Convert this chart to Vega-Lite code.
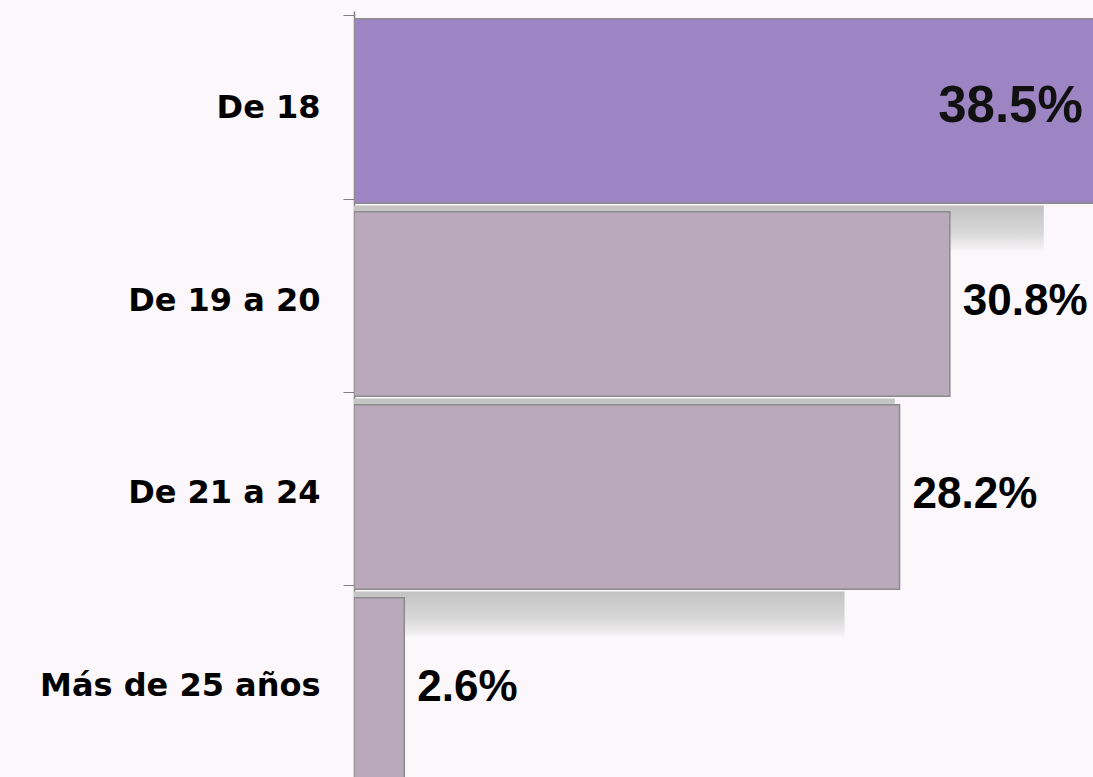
{
  "$schema": "https://vega.github.io/schema/vega-lite/v6.json",
  "width": 739,
  "height": 766,
  "autosize": {"type": "none"},
  "padding": {"left": 354, "top": 11, "right": 0, "bottom": 0},
  "background": "#FCF7FA",
  "config": {"view": {"stroke": null}},
  "data": {
    "values": [
      {"grupo": "De 18", "pct": 38.5, "label": "38.5%", "dest": "si"},
      {"grupo": "De 19 a 20", "pct": 30.8, "label": "30.8%", "dest": "no"},
      {"grupo": "De 21 a 24", "pct": 28.2, "label": "28.2%", "dest": "no"},
      {"grupo": "Más de 25 años", "pct": 2.6, "label": "2.6%", "dest": "no"}
    ]
  },
  "encoding": {
    "y": {
      "field": "grupo",
      "type": "nominal",
      "sort": null,
      "title": null,
      "scale": {"range": [0, 771], "paddingInner": 0.045, "paddingOuter": 0.02},
      "axis": {
        "domainColor": "#808080",
        "domainWidth": 1.5,
        "tickColor": "#808080",
        "tickSize": 11,
        "tickBand": "extent",
        "labelFont": "DejaVu Sans",
        "labelFontWeight": "bold",
        "labelFontSize": 32,
        "labelColor": "#000000",
        "labelPadding": 23,
        "labelLimit": 400,
        "grid": false
      }
    },
    "x": {
      "field": "pct",
      "type": "quantitative",
      "scale": {"domain": [0, 38.2], "nice": false, "zero": true},
      "axis": null
    }
  },
  "layer": [
    {
      "mark": {
        "type": "bar",
        "clip": true,
        "height": 45,
        "yOffset": 121,
        "xOffset": -55,
        "color": {
          "gradient": "linear",
          "x1": 0, "y1": 0, "x2": 0, "y2": 1,
          "stops": [
            {"offset": 0, "color": "#C2C2C2"},
            {"offset": 0.6, "color": "#D8D8D8"},
            {"offset": 1, "color": "#F6F2F5"}
          ]
        }
      }
    },
    {
      "mark": {"type": "bar", "clip": true, "yOffset": 4, "stroke": "#8C8C8C", "strokeWidth": 1.5},
      "encoding": {
        "color": {
          "field": "dest",
          "type": "nominal",
          "scale": {"domain": ["si", "no"], "range": ["#9D84C2", "#B9A9BA"]},
          "legend": null
        }
      }
    },
    {
      "transform": [{"filter": "datum.dest == 'no'"}],
      "mark": {
        "type": "text",
        "align": "left",
        "baseline": "middle",
        "dx": 13,
        "yOffset": 2,
        "font": "Liberation Sans",
        "fontWeight": "bold",
        "fontSize": 44,
        "color": "#000000"
      },
      "encoding": {"text": {"field": "label"}}
    },
    {
      "transform": [{"filter": "datum.dest == 'si'"}],
      "mark": {
        "type": "text",
        "align": "right",
        "baseline": "middle",
        "dx": -16,
        "font": "Liberation Sans",
        "fontWeight": "bold",
        "fontSize": 51,
        "color": "#111111"
      },
      "encoding": {"text": {"field": "label"}}
    }
  ]
}
